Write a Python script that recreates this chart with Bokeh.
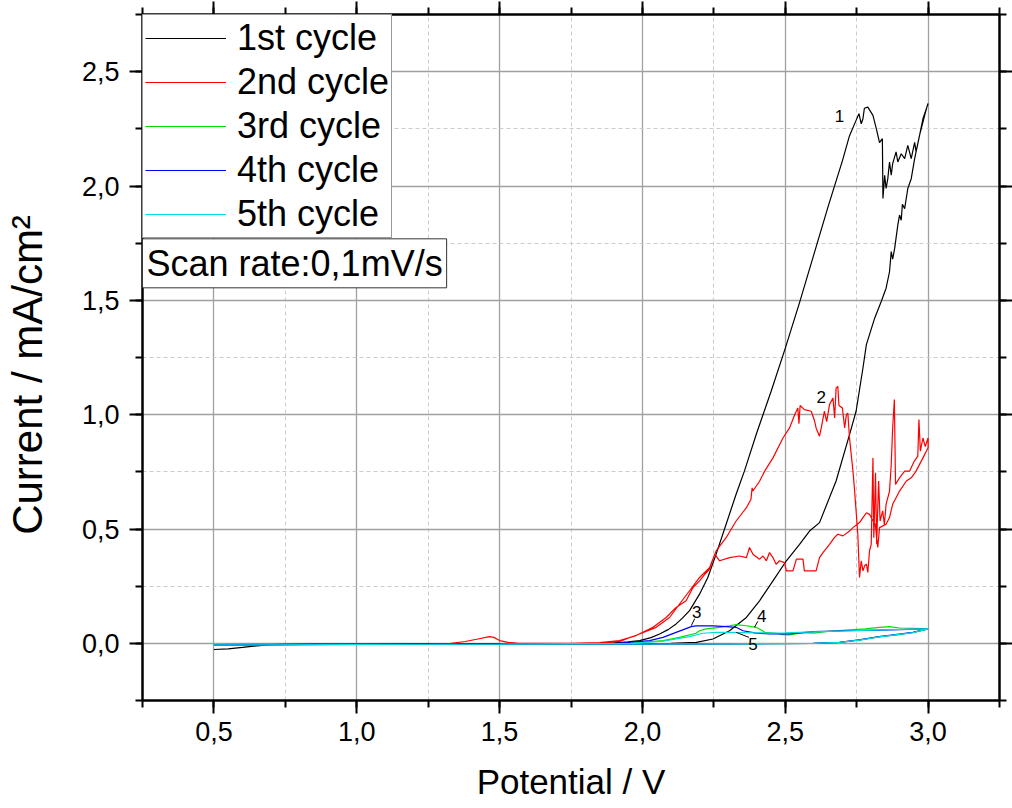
from bokeh.plotting import figure
from bokeh.models import (Range1d, LinearAxis, SingleIntervalTicker, CustomJSTickFormatter,
                          Legend, LegendItem, Label)
from bokeh.embed import file_html
from bokeh.resources import INLINE
from bokeh.core.properties import value

FONT = "Liberation Sans"

# ---------------- data (potential in V, current in mA/cm2) ----------------
cycle1_x = [0.50, 0.55, 0.60, 0.65, 0.70, 0.75, 0.85, 1.00, 1.25, 1.50, 1.75, 1.85, 1.90, 1.95,
            1.99, 2.03, 2.06, 2.09, 2.118, 2.14, 2.165, 2.20, 2.229, 2.258, 2.293, 2.328, 2.357,
            2.40, 2.45, 2.50, 2.55, 2.60, 2.65, 2.70, 2.725, 2.748, 2.758, 2.766, 2.772, 2.777,
            2.789, 2.807, 2.819, 2.830, 2.840, 2.842, 2.848, 2.853, 2.859, 2.865, 2.871, 2.876,
            2.888, 2.894, 2.906, 2.918, 2.929, 2.941, 2.953, 2.958, 2.970, 2.982, 3.000,
            2.999, 2.988, 2.970, 2.953, 2.941, 2.929, 2.918, 2.910, 2.906, 2.900, 2.894, 2.883,
            2.876, 2.871, 2.865, 2.853, 2.836, 2.813, 2.784, 2.772, 2.748, 2.725, 2.678, 2.62,
            2.585, 2.55, 2.504, 2.457, 2.41, 2.364, 2.305, 2.247, 2.189, 2.10, 2.00, 1.80, 1.50,
            1.00, 0.75, 0.50]
cycle1_y = [-0.027, -0.024, -0.018, -0.011, -0.006, -0.004, -0.003, -0.003, -0.002, -0.002,
            -0.001, 0.000, 0.002, 0.006, 0.012, 0.025, 0.041, 0.060, 0.085, 0.110, 0.143, 0.215,
            0.288, 0.390, 0.521, 0.652, 0.753, 0.92, 1.10, 1.29, 1.49, 1.70, 1.91, 2.11, 2.22,
            2.287, 2.316, 2.272, 2.294, 2.34, 2.345, 2.309, 2.25, 2.19, 2.207, 1.945, 2.047,
            1.989, 2.032, 2.105, 2.047, 2.098, 2.149, 2.105, 2.141, 2.12, 2.178, 2.12, 2.191,
            2.149, 2.22, 2.294, 2.36,
            2.359, 2.309, 2.221, 2.12, 2.032, 1.989, 1.901, 1.92, 1.85, 1.873, 1.829, 1.727,
            1.68, 1.713, 1.625, 1.553, 1.495, 1.422, 1.306, 1.204, 1.015, 0.913, 0.71, 0.528,
            0.491, 0.433, 0.361, 0.273, 0.186, 0.113, 0.055, 0.019, 0.004, 0.000, -0.001, -0.002,
            -0.003, -0.004, -0.005, -0.006]

cycle2_x = [0.50, 0.75, 1.00, 1.25, 1.33, 1.38, 1.42, 1.465, 1.48, 1.50, 1.53, 1.56, 1.70, 1.85,
            1.92, 1.99, 2.048, 2.095, 2.13, 2.165, 2.20, 2.235, 2.258, 2.293, 2.328, 2.364, 2.380,
            2.384, 2.387, 2.41, 2.428, 2.457, 2.492, 2.515, 2.533, 2.544, 2.548, 2.552, 2.567,
            2.591, 2.603, 2.608, 2.62, 2.626, 2.637, 2.645, 2.655, 2.667, 2.673, 2.678, 2.684,
            2.688, 2.70, 2.708, 2.714, 2.719, 2.725, 2.737, 2.742, 2.748, 2.754, 2.76, 2.766,
            2.772, 2.778, 2.784, 2.789, 2.795, 2.801, 2.807, 2.81, 2.812, 2.816, 2.82, 2.824,
            2.827, 2.832, 2.841, 2.847, 2.853, 2.865, 2.871, 2.876, 2.882, 2.886, 2.9, 2.918,
            2.935, 2.952, 2.964, 2.968, 2.973, 2.982, 2.99, 3.00,
            3.00, 2.982, 2.958, 2.941, 2.924, 2.9, 2.888, 2.876, 2.865, 2.853, 2.83, 2.824,
            2.815, 2.795, 2.784, 2.772, 2.76, 2.737, 2.725, 2.702, 2.684, 2.672, 2.655, 2.632,
            2.62, 2.608, 2.585, 2.567, 2.562, 2.539, 2.527, 2.504, 2.497, 2.48, 2.468, 2.457,
            2.445, 2.434, 2.422, 2.41, 2.387, 2.375, 2.364, 2.34, 2.305, 2.27, 2.253, 2.235,
            2.218, 2.20, 2.177, 2.153, 2.118, 2.083, 2.037, 1.978, 1.92, 1.85, 1.75, 1.50,
            1.00, 0.50]
cycle2_y = [-0.006, -0.004, -0.003, -0.002, 0.000, 0.008, 0.018, 0.029, 0.026, 0.012, 0.004,
            0.001, 0.000, 0.000, 0.008, 0.041, 0.070, 0.113, 0.172, 0.230, 0.288, 0.331, 0.404,
            0.462, 0.535, 0.593, 0.630, 0.680, 0.666, 0.709, 0.753, 0.811, 0.898, 0.942, 1.000,
            1.029, 0.960, 1.040, 1.022, 1.015, 0.971, 0.942, 0.906, 0.942, 1.015, 0.970, 1.044,
            1.073, 0.986, 1.116, 1.124, 1.040, 1.029, 0.942, 1.000, 1.007, 0.898, 0.753, 0.680,
            0.579, 0.477, 0.288, 0.361, 0.317, 0.340, 0.346, 0.310, 0.404, 0.433, 0.811, 0.462,
            0.550, 0.746, 0.433, 0.600, 0.710, 0.535, 0.579, 0.520, 0.608, 0.666, 0.782, 0.942,
            1.066, 0.695, 0.724, 0.753, 0.753, 0.797, 0.819, 0.979, 0.840, 0.898, 0.860, 0.898,
            0.855, 0.811, 0.753, 0.724, 0.710, 0.666, 0.637, 0.608, 0.550, 0.521, 0.506, 0.419,
            0.520, 0.564, 0.571, 0.550, 0.528, 0.506, 0.491, 0.470, 0.477, 0.462, 0.433, 0.397,
            0.375, 0.317, 0.317, 0.317, 0.368, 0.368, 0.317, 0.317, 0.353, 0.361, 0.346, 0.375,
            0.397, 0.361, 0.382, 0.368, 0.390, 0.419, 0.375, 0.382, 0.375, 0.361, 0.390, 0.324,
            0.302, 0.273, 0.244, 0.186, 0.157, 0.113, 0.070, 0.034, 0.012, 0.003, 0.000, -0.002,
            -0.004, -0.006]

cycle3_x = [0.50, 1.00, 1.50, 1.90, 2.00, 2.072, 2.13, 2.188, 2.20, 2.223, 2.27, 2.305, 2.328,
            2.364, 2.398, 2.416, 2.428, 2.468, 2.492, 2.515, 2.55, 2.573, 2.60, 2.65, 2.713,
            2.78, 2.83, 2.865, 2.90, 2.95, 3.00,
            2.947, 2.90, 2.83, 2.76, 2.69, 2.60, 2.30, 2.00, 1.50, 1.00, 0.50]
cycle3_y = [-0.007, -0.005, -0.004, -0.002, 0.004, 0.012, 0.026, 0.044, 0.055, 0.063, 0.070,
            0.077, 0.082, 0.077, 0.070, 0.058, 0.048, 0.044, 0.038, 0.037, 0.045, 0.047, 0.045,
            0.052, 0.058, 0.063, 0.070, 0.073, 0.067, 0.066, 0.063,
            0.048, 0.038, 0.029, 0.015, 0.004, 0.000, -0.002, -0.003, -0.004, -0.005, -0.006]

cycle4_x = [0.50, 1.00, 1.50, 1.90, 1.955, 2.025, 2.072, 2.118, 2.171, 2.188, 2.247, 2.293,
            2.328, 2.352, 2.398, 2.445, 2.515, 2.597, 2.713, 2.83, 3.00,
            2.947, 2.83, 2.76, 2.69, 2.597, 2.20, 1.50, 0.50]
cycle4_y = [-0.007, -0.005, -0.004, -0.001, 0.004, 0.012, 0.026, 0.048, 0.073, 0.076, 0.076,
            0.073, 0.070, 0.055, 0.045, 0.041, 0.041, 0.051, 0.055, 0.058, 0.063,
            0.048, 0.029, 0.015, 0.004, 0.000, -0.002, -0.004, -0.006]

cycle5_x = [0.50, 1.00, 1.50, 1.955, 2.072, 2.165, 2.212, 2.258, 2.305, 2.352, 2.40, 2.45, 2.50,
            2.60, 2.70, 2.80, 2.90, 3.00,
            2.947, 2.83, 2.76, 2.69, 2.60, 2.00, 1.00, 0.50]
cycle5_y = [-0.007, -0.005, -0.004, 0.000, 0.009, 0.029, 0.044, 0.048, 0.048, 0.047, 0.046,
            0.045, 0.046, 0.050, 0.054, 0.058, 0.061, 0.063,
            0.047, 0.028, 0.014, 0.004, 0.000, -0.003, -0.005, -0.007]

series_names = ["1st cycle", "2nd cycle", "3rd cycle", "4th cycle", "5th cycle"]
series_colors = ["#000000", "#ff0000", "#00dd00", "#0000ff", "#00dddd"]

# curve labels and their leader lines
note_text = ["1", "2", "3", "4", "5"]
note_x = [2.69, 2.626, 2.19, 2.418, 2.387]
note_y = [2.304, 1.077, 0.135, 0.121, -0.003]
lead_x0 = [2.171, 2.392, 2.328]
lead_y0 = [0.077, 0.070, 0.048]
lead_x1 = [2.183, 2.404, 2.373]
lead_y1 = [0.108, 0.096, 0.026]

x_ticks_interval = 0.5
y_ticks_interval = 0.5

# ---------------- figure ----------------
p = figure(width=1012, height=808, x_range=Range1d(0.25, 3.25), y_range=Range1d(-0.25, 2.75),
           output_backend="svg", toolbar_location=None,
           min_border_left=142, min_border_right=12, min_border_top=14, min_border_bottom=108,
           background_fill_color="white", border_fill_color="white")
p.outline_line_color = None

xt = SingleIntervalTicker(interval=x_ticks_interval, num_minor_ticks=2)
yt = SingleIntervalTicker(interval=y_ticks_interval, num_minor_ticks=2)
fmt = CustomJSTickFormatter(code="return tick.toFixed(1).replace('.', ',');")
blank = CustomJSTickFormatter(code="return '';")


def style_axis(ax):
    ax.axis_line_width = 2.5
    ax.axis_line_color = "black"
    ax.major_tick_line_width = 2
    ax.minor_tick_line_width = 2
    ax.major_tick_line_color = "black"
    ax.minor_tick_line_color = "black"
    ax.major_tick_out = 13
    ax.major_tick_in = 0
    ax.minor_tick_out = 7
    ax.minor_tick_in = 0
    ax.major_label_text_font = FONT
    ax.major_label_text_font_size = "27px"
    ax.major_label_text_color = "black"
    ax.axis_label_text_font = FONT
    ax.axis_label_text_font_style = "normal"
    ax.axis_label_text_color = "black"


xb = p.below[0]
xb.ticker = xt
xb.formatter = fmt
style_axis(xb)
xb.major_label_standoff = 8
xb.axis_label = "Potential / V"
xb.axis_label_text_font_size = "35px"
xb.axis_label_standoff = 18

yl = p.left[0]
yl.ticker = yt
yl.formatter = fmt
style_axis(yl)
yl.major_label_standoff = 10
yl.axis_label = "Current / mA/cm\u00b2\u00a0\u00a0\u00a0"
yl.axis_label_text_font_size = "42px"
yl.axis_label_standoff = 28

xa = LinearAxis(ticker=xt, formatter=blank)
style_axis(xa)
xa.major_label_text_font_size = "0px"
xa.major_label_standoff = 0
p.add_layout(xa, "above")

yr = LinearAxis(ticker=yt, formatter=blank)
style_axis(yr)
yr.major_label_text_font_size = "0px"
yr.major_label_standoff = 0
p.add_layout(yr, "right")

for g in (p.xgrid[0], p.ygrid[0]):
    g.grid_line_color = "#a0a0a0"
    g.grid_line_width = 1.3
    g.minor_grid_line_color = "#cccccc"
    g.minor_grid_line_width = 1
    g.minor_grid_line_dash = "4 3"
p.xgrid[0].ticker = xt
p.ygrid[0].ticker = yt

# ---------------- curves ----------------
xs = [cycle1_x, cycle2_x, cycle3_x, cycle4_x, cycle5_x]
ys = [cycle1_y, cycle2_y, cycle3_y, cycle4_y, cycle5_y]
renderers = []
for cx, cy, col in zip(xs, ys, series_colors):
    r = p.line(cx, cy, line_color=col, line_width=1.2)
    renderers.append(r)

p.segment(x0=lead_x0, y0=lead_y0, x1=lead_x1, y1=lead_y1, line_color="black", line_width=1)
p.text(x=note_x, y=note_y, text=note_text, text_font=value(FONT), text_font_size="17px",
       text_align="center", text_baseline="middle", text_color="black")

legend = Legend(items=[LegendItem(label=n, renderers=[r]) for n, r in zip(series_names, renderers)],
                location="top_left", margin=0, padding=2, spacing=2, glyph_width=81,
                glyph_height=20, label_standoff=11, label_text_font=FONT,
                label_text_font_size="36px", label_text_color="black",
                border_line_color="#333333", border_line_width=1,
                background_fill_color="white", background_fill_alpha=1)
p.add_layout(legend)

scan = Label(x=0.25, y=1.769, text="Scan rate:0,1mV/s", text_font=FONT, text_font_size="36px",
             text_color="black", anchor="top_left", padding=4,
             border_line_color="#333333", border_line_width=1,
             background_fill_color="white", background_fill_alpha=1)
p.add_layout(scan)

open("out.html", "w").write(file_html(p, INLINE))
